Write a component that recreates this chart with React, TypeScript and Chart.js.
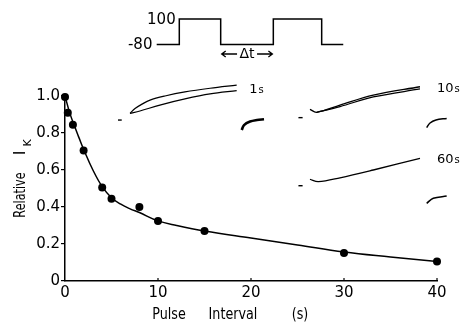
import React, { useEffect, useRef } from "react";
import { Chart, registerables } from "chart.js";

Chart.register(...registerables);

// Measured points: pulse interval (s) vs relative I_K
const pointX = [0, 0.3, 0.85, 2, 4, 5, 8, 10, 15, 30, 40];
const pointY = [0.995, 0.91, 0.845, 0.705, 0.505, 0.445, 0.4, 0.325, 0.27, 0.152, 0.105];

// Fitted curve
const curveX = [0, 0.5, 1, 1.5, 2, 3, 4, 5, 6, 7, 8, 10, 12, 15, 20, 25, 30, 35, 40];
const curveY = [1.0, 0.91, 0.84, 0.775, 0.712, 0.6, 0.51, 0.45, 0.415, 0.39, 0.37, 0.325, 0.3, 0.27, 0.232, 0.195, 0.157, 0.13, 0.105];

// Axis ticks
const xTickValues = [0, 10, 20, 30, 40];
const yTickValues = [0, 0.2, 0.4, 0.6, 0.8, 1.0];

// Inset current traces (in main axis units)
const t1UpperX = [6.99, 7.53, 8.28, 9.14, 10.75, 12.9, 15.6, 18.46];
const t1UpperY = [0.906, 0.932, 0.956, 0.978, 1.0, 1.022, 1.042, 1.059];
const t1LowerX = [6.99, 8.06, 10.2, 12.9, 15.6, 18.46];
const t1LowerY = [0.906, 0.919, 0.951, 0.984, 1.011, 1.029];
const t1TailX = [19.0, 19.25, 19.9, 20.65, 21.4];
const t1TailY = [0.816, 0.843, 0.862, 0.87, 0.874];
const t1DashX = [5.7, 6.1];
const t1DashY = [0.87, 0.87];

const t10UpperX = [26.34, 27.06, 29.57, 33.15, 38.17];
const t10UpperY = [0.928, 0.912, 0.951, 1.005, 1.05];
const t10LowerX = [27.06, 29.57, 33.15, 38.17];
const t10LowerY = [0.912, 0.943, 0.995, 1.038];
const t10TailX = [38.89, 39.25, 39.89, 41.04];
const t10TailY = [0.829, 0.854, 0.87, 0.879];
const t10DashX = [25.1, 25.55];
const t10DashY = [0.883, 0.883];

const t60X = [26.34, 27.24, 29.57, 33.15, 38.17];
const t60Y = [0.55, 0.537, 0.558, 0.6, 0.663];
const t60TailX = [38.89, 39.6, 41.04];
const t60TailY = [0.42, 0.447, 0.459];
const t60DashX = [25.1, 25.55];
const t60DashY = [0.515, 0.515];

// Voltage protocol (-80 / 100 mV pulses)
const protoX = [9.86, 12.29, 12.29, 16.74, 16.74, 22.4, 22.4, 27.6, 27.6, 29.92];
const protoY = [1.279, 1.279, 1.416, 1.416, 1.279, 1.279, 1.416, 1.416, 1.279, 1.279];

const zip = (xs: number[], ys: number[]) => xs.map((x, i) => ({ x, y: ys[i] }));

const FONT = "'DejaVu Sans', sans-serif";

const lineDs = (xs: number[], ys: number[], width: number, tension = 0.35) => ({
  type: "scatter" as const,
  data: zip(xs, ys),
  showLine: true,
  borderColor: "#000",
  backgroundColor: "#000",
  borderWidth: width,
  pointRadius: 0,
  tension,
  clip: false as any,
});

const textPlugin = {
  id: "figText",
  afterDatasetsDraw(chart: any) {
    const ctx = chart.ctx;
    const xs = chart.scales.x;
    const ys = chart.scales.y;
    const area = chart.chartArea;
    const px = (v: number) => xs.getPixelForValue(v);
    const py = (v: number) => ys.getPixelForValue(v);
    ctx.save();
    ctx.fillStyle = "#000";
    ctx.strokeStyle = "#000";

    // inward x ticks
    ctx.lineWidth = 1.2;
    xTickValues.slice(1).forEach((v) => {
      ctx.beginPath();
      ctx.moveTo(px(v), area.bottom);
      ctx.lineTo(px(v), area.bottom - 3);
      ctx.stroke();
    });

    // inset labels
    const label = (num: string, x: number, y: number) => {
      ctx.textBaseline = "alphabetic";
      ctx.textAlign = "left";
      ctx.font = `13px ${FONT}`;
      ctx.fillText(num, px(x), py(y) + 5);
      const w = ctx.measureText(num).width;
      ctx.font = `10px ${FONT}`;
      ctx.fillText("s", px(x) + w + 1, py(y) + 5);
    };
    label("1", 19.8, 1.043);
    label("10", 40.0, 1.049);
    label("60", 40.0, 0.665);

    // protocol labels
    ctx.font = `15px ${FONT}`;
    ctx.textAlign = "right";
    ctx.textBaseline = "middle";
    ctx.fillText("100", px(11.9), py(1.416) + 1);
    ctx.fillText("-80", px(9.4), py(1.279) + 1);
    ctx.textAlign = "center";
    ctx.font = `14px ${FONT}`;
    ctx.fillText("\u0394t", px(19.57), py(1.227));
    // arrows
    const arrow = (from: number, to: number, yv: number) => {
      const a = px(from), b = px(to), y = py(yv);
      const dir = Math.sign(b - a);
      ctx.lineWidth = 1.3;
      ctx.beginPath();
      ctx.moveTo(a, y);
      ctx.lineTo(b, y);
      ctx.moveTo(b - dir * 4, y - 3);
      ctx.lineTo(b, y);
      ctx.lineTo(b - dir * 4, y + 3);
      ctx.stroke();
    };
    arrow(18.5, 16.85, 1.227);
    arrow(20.65, 22.3, 1.227);

    // y axis title (narrow lettering)
    ctx.textAlign = "center";
    ctx.textBaseline = "middle";
    ctx.save();
    ctx.translate(21, 195);
    ctx.rotate(-Math.PI / 2);
    ctx.scale(0.75, 1);
    ctx.font = `15px ${FONT}`;
    ctx.fillText("Relative", 0, 0);
    ctx.restore();
    ctx.save();
    ctx.translate(21, 153);
    ctx.rotate(-Math.PI / 2);
    ctx.font = `16px ${FONT}`;
    ctx.fillText("I", 0, 0);
    ctx.font = `11px ${FONT}`;
    ctx.fillText("K", 10, 7);
    ctx.restore();

    // x axis title (narrow lettering)
    const narrow = (t: string, x: number, y: number) => {
      ctx.save();
      ctx.translate(x, y);
      ctx.scale(0.85, 1);
      ctx.fillText(t, 0, 0);
      ctx.restore();
    };
    ctx.font = `15px ${FONT}`;
    ctx.textBaseline = "middle";
    narrow("Pulse", 169, 315);
    narrow("Interval", 233, 315);
    narrow("(s)", 300, 315);

    ctx.restore();
  },
};

export default function App() {
  const ref = useRef<HTMLCanvasElement>(null);
  useEffect(() => {
    document.body.style.margin = "0";
    const chart = new Chart(ref.current!, {
      type: "scatter",
      data: {
        datasets: [
          lineDs(curveX, curveY, 1.5, 0.4),
          {
            type: "scatter",
            data: zip(pointX, pointY),
            pointRadius: 4,
            pointBackgroundColor: "#000",
            pointBorderColor: "#000",
            borderWidth: 0,
            clip: false as any,
          },
          lineDs(t1UpperX, t1UpperY, 1.2),
          lineDs(t1LowerX, t1LowerY, 1.2),
          lineDs(t1TailX, t1TailY, 2.6),
          lineDs(t1DashX, t1DashY, 1.4, 0),
          lineDs(t10UpperX, t10UpperY, 1.3),
          lineDs(t10LowerX, t10LowerY, 1.3),
          lineDs(t10TailX, t10TailY, 1.5),
          lineDs(t10DashX, t10DashY, 1.4, 0),
          lineDs(t60X, t60Y, 1.3),
          lineDs(t60TailX, t60TailY, 1.5),
          lineDs(t60DashX, t60DashY, 1.4, 0),
          lineDs(protoX, protoY, 1.5, 0),
        ],
      },
      options: {
        responsive: false,
        animation: false,
        events: [],
        layout: { padding: { top: 96, right: 23, left: 0, bottom: 0 } },
        plugins: { legend: { display: false }, tooltip: { enabled: false } },
        scales: {
          x: {
            type: "linear",
            min: 0,
            max: 40,
            afterBuildTicks: (s: any) => {
              s.ticks = xTickValues.map((v) => ({ value: v }));
            },
            afterFit: (s: any) => {
              s.height = 42;
            },
            ticks: {
              color: "#000",
              font: { family: FONT, size: 15 },
              padding: 3,
              maxRotation: 0,
              callback: (v: any) => String(v),
            },
            grid: { display: true, drawOnChartArea: false, drawTicks: false },
            border: { display: true, color: "#000", width: 1.5 },
          },
          y: {
            type: "linear",
            min: 0,
            max: 1,
            afterBuildTicks: (s: any) => {
              s.ticks = yTickValues.map((v) => ({ value: v }));
            },
            afterFit: (s: any) => {
              s.width = 65;
            },
            ticks: {
              color: "#000",
              font: { family: FONT, size: 15 },
              padding: 1,
              callback: (v: any) => (v === 0 ? "0" : Number(v).toFixed(1)),
            },
            grid: {
              display: true,
              drawOnChartArea: false,
              drawTicks: true,
              tickLength: 4,
              color: "#000",
              lineWidth: 1.2,
            },
            border: { display: true, color: "#000", width: 1.5 },
          },
        },
      },
      plugins: [textPlugin],
    });
    return () => chart.destroy();
  }, []);
  return (
    <div style={{ width: 460, height: 323, background: "#fff" }}>
      <canvas ref={ref} width={460} height={323} style={{ display: "block" }} />
    </div>
  );
}
